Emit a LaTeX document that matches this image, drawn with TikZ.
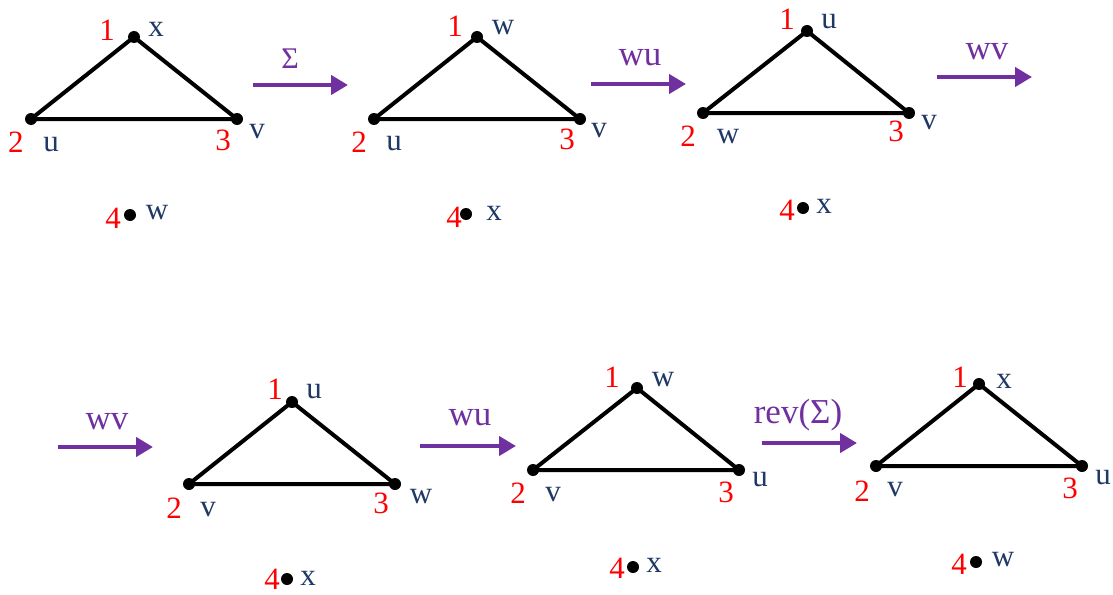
\documentclass[tikz,border=0pt]{standalone}
\usepackage{fontspec}
\setmainfont{Liberation Serif}
\usetikzlibrary{arrows.meta}
\definecolor{numred}{RGB}{255,0,0}
\definecolor{lblnavy}{RGB}{31,56,100}
\definecolor{arrpurple}{RGB}{112,48,160}
\begin{document}
\begin{tikzpicture}[x=1pt,y=-1pt,
  vtx/.style={circle,fill=black,inner sep=0pt,minimum size=12pt},
  edge/.style={line width=4pt,line cap=round,line join=round},
  num/.style={text=numred,inner sep=0pt,font=\fontsize{31}{32}\selectfont},
  lbl/.style={text=lblnavy,inner sep=0pt,font=\fontsize{31}{32}\selectfont},
  op/.style={text=arrpurple,inner sep=0pt,font=\fontsize{35}{36}\selectfont},
  opsmall/.style={text=arrpurple,inner sep=0pt,font=\fontsize{30}{31}\selectfont},
  move/.style={draw=arrpurple,line width=4.5pt,-{Triangle[length=17pt,width=19pt]}}]
\useasboundingbox (0,0) rectangle (1113,594);

% ---------- Triangle 1 ----------
\node[vtx] (a1) at (134,37) {};
\node[vtx] (a2) at (31,119) {};
\node[vtx] (a3) at (237,119) {};
\node[vtx] (a4) at (130,215) {};
\draw[edge] (a1.center) -- (a2.center) -- (a3.center) -- cycle;
\node[num] (a1n) at (107,30) {1};
\node[lbl] (a1l) at (156,29) {x};
\node[num] (a2n) at (16,142) {2};
\node[lbl] (a2l) at (51,145) {u};
\node[num] (a3n) at (223,140) {3};
\node[lbl] (a3l) at (257,132) {v};
\node[num] (a4n) at (113,218) {4};
\node[lbl] (a4l) at (157,213) {w};

\coordinate (s1a) at (253,85);
\coordinate (s1b) at (348,85);
\draw[move] (s1a) -- (s1b);
\node[opsmall] (s1t) at (290,59) {Σ};

% ---------- Triangle 2 ----------
\node[vtx] (b1) at (477,37) {};
\node[vtx] (b2) at (374,119) {};
\node[vtx] (b3) at (580,119) {};
\node[vtx] (b4) at (466,214) {};
\draw[edge] (b1.center) -- (b2.center) -- (b3.center) -- cycle;
\node[num] (b1n) at (455,26) {1};
\node[lbl] (b1l) at (503,28) {w};
\node[num] (b2n) at (359,142) {2};
\node[lbl] (b2l) at (394,144) {u};
\node[num] (b3n) at (567,139) {3};
\node[lbl] (b3l) at (599,131) {v};
\node[num] (b4n) at (454,217) {4};
\node[lbl] (b4l) at (494,213) {x};

\coordinate (s2a) at (591,84);
\coordinate (s2b) at (686,84);
\draw[move] (s2a) -- (s2b);
\node[op] (s2t) at (640,58) {wu};

% ---------- Triangle 3 ----------
\node[vtx] (c1) at (807,31) {};
\node[vtx] (c2) at (703,113) {};
\node[vtx] (c3) at (909,113) {};
\node[vtx] (c4) at (803,208) {};
\draw[edge] (c1.center) -- (c2.center) -- (c3.center) -- cycle;
\node[num] (c1n) at (787,19) {1};
\node[lbl] (c1l) at (829,22) {u};
\node[num] (c2n) at (688,136) {2};
\node[lbl] (c2l) at (728,137) {w};
\node[num] (c3n) at (896,131) {3};
\node[lbl] (c3l) at (929,123) {v};
\node[num] (c4n) at (787,210) {4};
\node[lbl] (c4l) at (824,206) {x};

\coordinate (s3a) at (937,77);
\coordinate (s3b) at (1032,77);
\draw[move] (s3a) -- (s3b);
\node[op] (s3t) at (987,52) {wv};

% ---------- Row 2 ----------
\coordinate (s4a) at (58,447);
\coordinate (s4b) at (153,447);
\draw[move] (s4a) -- (s4b);
\node[op] (s4t) at (107,422) {wv};

% ---------- Triangle 4 ----------
\node[vtx] (d1) at (292,402) {};
\node[vtx] (d2) at (189,484) {};
\node[vtx] (d3) at (395,484) {};
\node[vtx] (d4) at (287,579) {};
\draw[edge] (d1.center) -- (d2.center) -- (d3.center) -- cycle;
\node[num] (d1n) at (275,389) {1};
\node[lbl] (d1l) at (314,392) {u};
\node[num] (d2n) at (174,508) {2};
\node[lbl] (d2l) at (208,510) {v};
\node[num] (d3n) at (381,503) {3};
\node[lbl] (d3l) at (421,497) {w};
\node[num] (d4n) at (272,579) {4};
\node[lbl] (d4l) at (308,578) {x};

\coordinate (s5a) at (420,446);
\coordinate (s5b) at (516,446);
\draw[move] (s5a) -- (s5b);
\node[op] (s5t) at (470,418) {wu};

% ---------- Triangle 5 ----------
\node[vtx] (e1) at (637,388) {};
\node[vtx] (e2) at (533,470) {};
\node[vtx] (e3) at (739,470) {};
\node[vtx] (e4) at (633,567) {};
\draw[edge] (e1.center) -- (e2.center) -- (e3.center) -- cycle;
\node[num] (e1n) at (612,377) {1};
\node[lbl] (e1l) at (663,380) {w};
\node[num] (e2n) at (518,493) {2};
\node[lbl] (e2l) at (553,495) {v};
\node[num] (e3n) at (726,492) {3};
\node[lbl] (e3l) at (760,480) {u};
\node[num] (e4n) at (617,568) {4};
\node[lbl] (e4l) at (654,565) {x};

\coordinate (s6a) at (762,443);
\coordinate (s6b) at (857,443);
\draw[move] (s6a) -- (s6b);
\node[op] (s6t) at (798,415) {rev(Σ)};

% ---------- Triangle 6 ----------
\node[vtx] (f1) at (979,384) {};
\node[vtx] (f2) at (876,466) {};
\node[vtx] (f3) at (1082,466) {};
\node[vtx] (f4) at (976,562) {};
\draw[edge] (f1.center) -- (f2.center) -- (f3.center) -- cycle;
\node[num] (f1n) at (960,377) {1};
\node[lbl] (f1l) at (1004,381) {x};
\node[num] (f2n) at (862,491) {2};
\node[lbl] (f2l) at (895,490) {v};
\node[num] (f3n) at (1070,488) {3};
\node[lbl] (f3l) at (1103,478) {u};
\node[num] (f4n) at (959,564) {4};
\node[lbl] (f4l) at (1003,560) {w};
\end{tikzpicture}
\end{document}
